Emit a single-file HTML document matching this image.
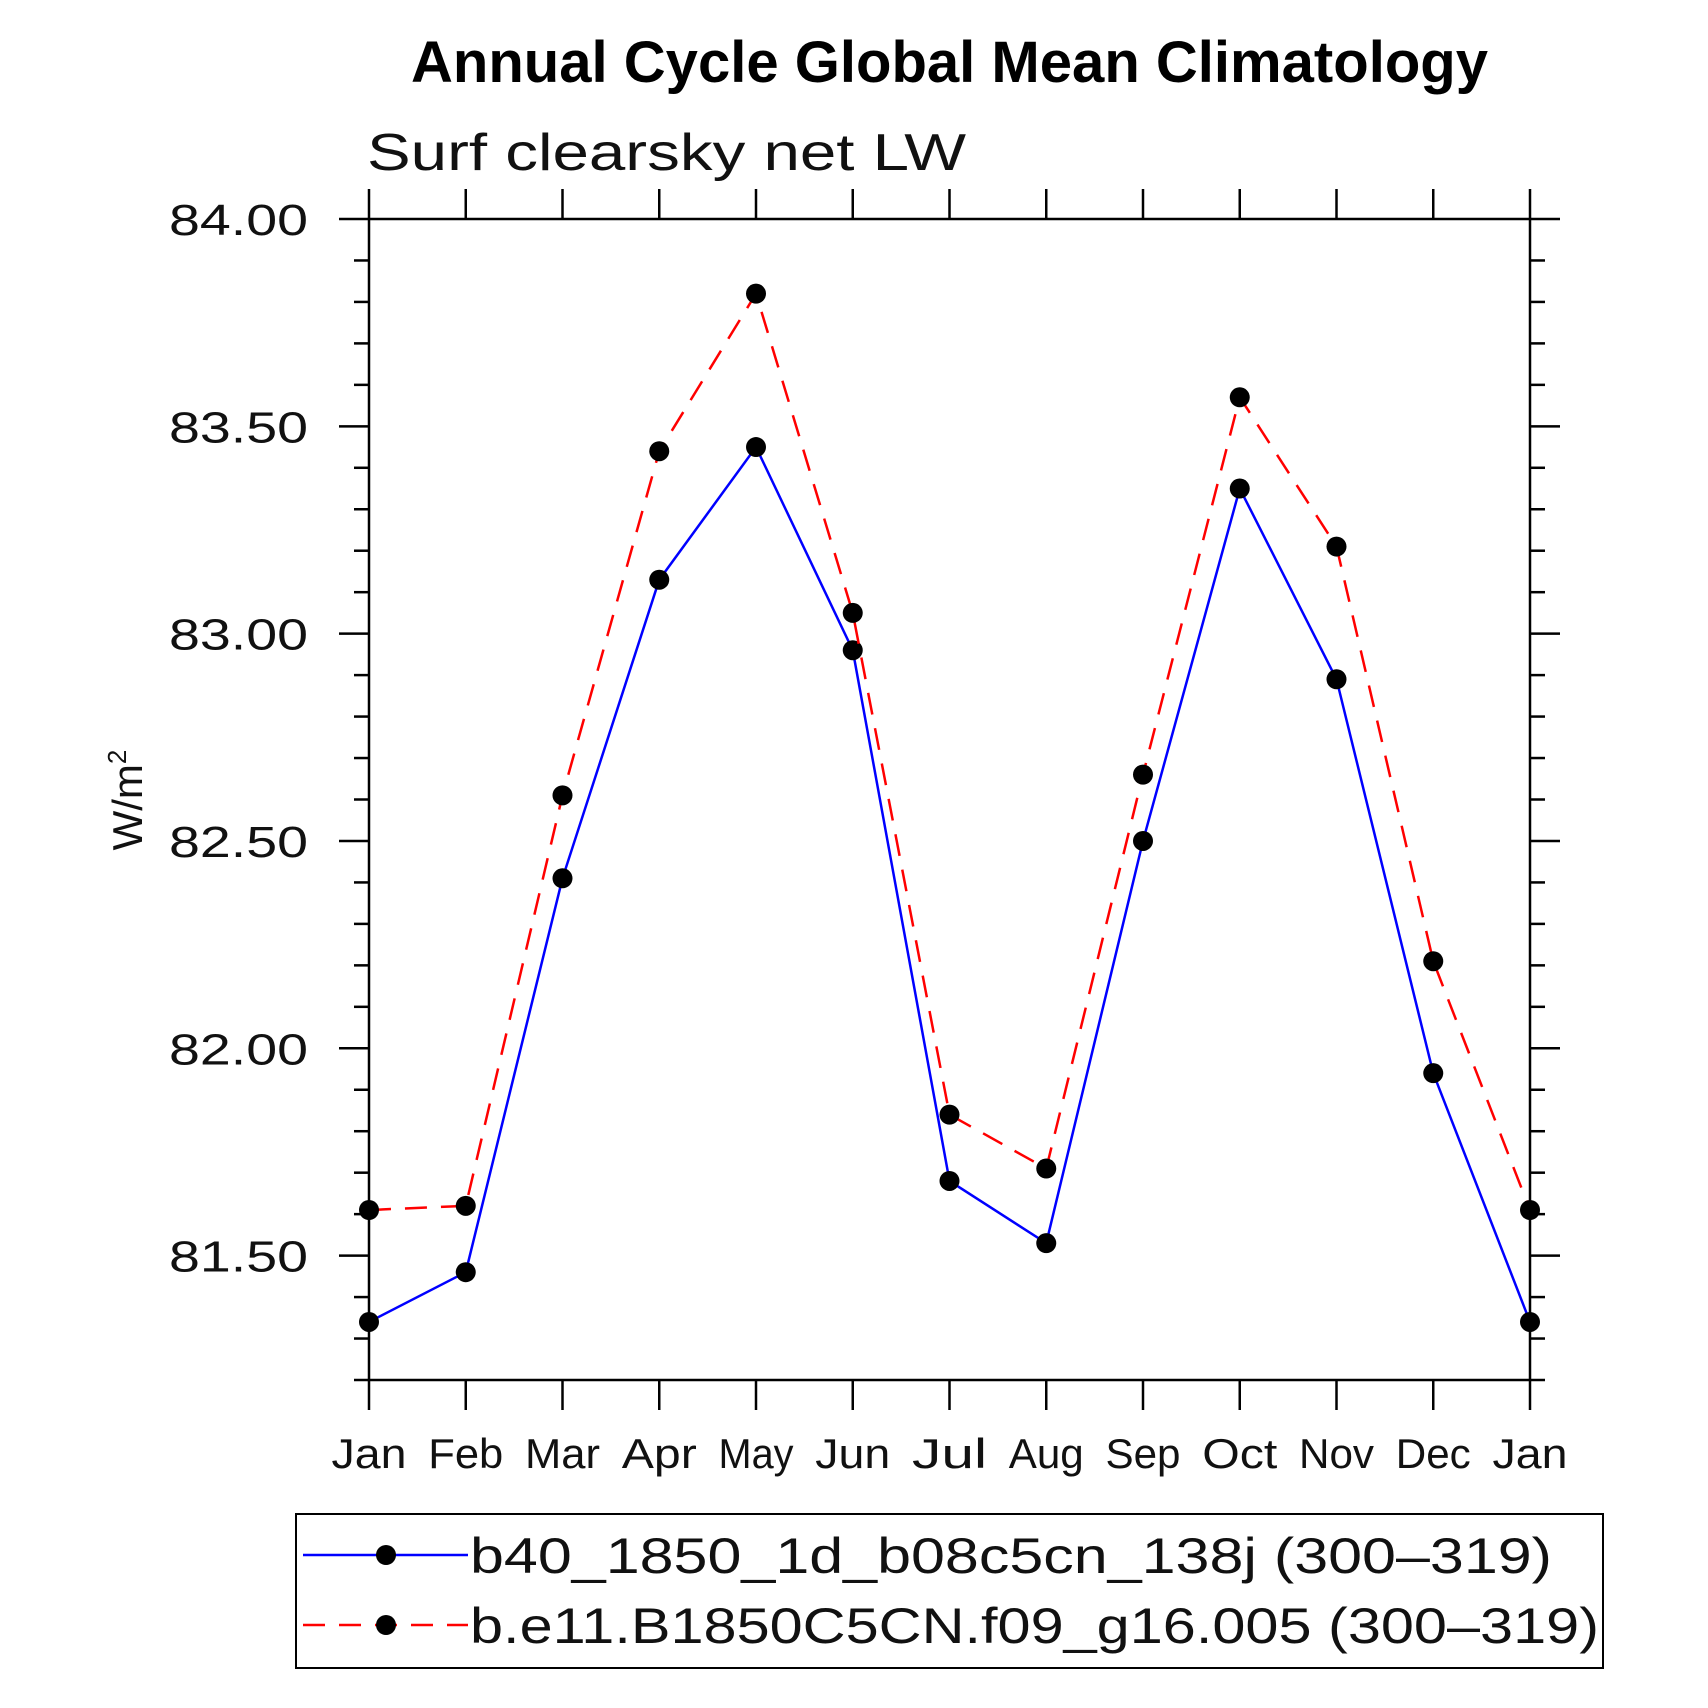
<!DOCTYPE html>
<html><head><meta charset="utf-8"><style>
html,body{margin:0;padding:0;background:#fff;}
svg{display:block;font-family:"Liberation Sans",sans-serif;}
</style></head><body>
<svg id="chart" width="1708" height="1708" viewBox="0 0 1708 1708">
<text x="411" y="82" textLength="1077" lengthAdjust="spacingAndGlyphs" font-size="58" font-weight="bold">Annual Cycle Global Mean Climatology</text>
<text x="367" y="170" textLength="599" lengthAdjust="spacingAndGlyphs" font-size="52" fill="#111">Surf clearsky net LW</text>
<text transform="translate(142,800) rotate(-90)" text-anchor="middle" font-size="42" fill="#111">W/m<tspan font-size="26" dy="-16">2</tspan></text>
<g id="axes"></g>
<g id="series"></g>
<rect x="296" y="1514" width="1307" height="154" fill="none" stroke="#000" stroke-width="2"/>
<g>
<line x1="303" y1="1555" x2="468" y2="1555" stroke="#0000ff" stroke-width="2.5"/>
<circle cx="386" cy="1555" r="10" fill="#000"/>
<text x="470" y="1573" textLength="1082" lengthAdjust="spacingAndGlyphs" font-size="50" fill="#111">b40_1850_1d_b08c5cn_138j (300–319)</text>
</g>
<g>
<line x1="303" y1="1625" x2="468" y2="1625" stroke="#ff0000" stroke-width="2.5" stroke-dasharray="22,14"/>
<circle cx="386" cy="1625" r="10" fill="#000"/>
<text x="470" y="1643" textLength="1129" lengthAdjust="spacingAndGlyphs" font-size="50" fill="#111">b.e11.B1850C5CN.f09_g16.005 (300–319)</text>
</g>
</svg>
<script>
const months = ["Jan","Feb","Mar","Apr","May","Jun","Jul","Aug","Sep","Oct","Nov","Dec","Jan"];
const blueValues = [81.34,81.46,82.41,83.13,83.45,82.96,81.68,81.53,82.50,83.35,82.89,81.94,81.34];
const redValues = [81.61,81.62,82.61,83.44,83.82,83.05,81.84,81.71,82.66,83.57,83.21,82.21,81.61];
const yTickLabels = ["81.50","82.00","82.50","83.00","83.50","84.00"];
const yMin = 81.2, yMax = 84.0;
const L=369,R=1530,T=219,B=1380;
const NS="http://www.w3.org/2000/svg";
function xs(i){return L+(R-L)*i/(months.length-1);}
function ys(v){return B-(v-yMin)/(yMax-yMin)*(B-T);}
function mk(tag,attrs,parent){const e=document.createElementNS(NS,tag);for(const k in attrs)e.setAttribute(k,attrs[k]);parent.appendChild(e);return e;}
const ax=document.getElementById('axes');
const frame=mk('rect',{x:L,y:T,width:R-L,height:B-T,fill:'none',stroke:'#000','stroke-width':2.5},ax);


for(let k=0;k<=28;k++){
  const v=yMin+k*0.1; const y=ys(v);
  const major=Math.abs((v*2)-Math.round(v*2))<1e-6;
  const len=major?30:15;
  mk('line',{x1:L-len,y1:y,x2:L,y2:y,stroke:'#000','stroke-width':2.5},ax);
  mk('line',{x1:R,y1:y,x2:R+len,y2:y,stroke:'#000','stroke-width':2.5},ax);
}
yTickLabels.forEach(s=>{
  const t=mk('text',{x:169,y:ys(parseFloat(s))+16,textLength:139,lengthAdjust:'spacingAndGlyphs','font-size':44,fill:'#111'},ax);
  t.textContent=s;
  
  
});
months.forEach((m,i)=>{
  const x=xs(i);
  mk('line',{x1:x,y1:B,x2:x,y2:B+30,stroke:'#000','stroke-width':2.5},ax);
  mk('line',{x1:x,y1:T-30,x2:x,y2:T,stroke:'#000','stroke-width':2.5},ax);
  const w=m.length*25;
  const t=mk('text',{x:x-w/2,y:1468,textLength:w,lengthAdjust:'spacingAndGlyphs','font-size':42,fill:'#111'},ax);
  t.textContent=m;
  
  
});
const sg=document.getElementById('series');
function drawSeries(vals,color,dash,name){
  const pts=vals.map((v,i)=>xs(i)+','+ys(v)).join(' ');
  const pl=mk('polyline',{points:pts,fill:'none',stroke:color,'stroke-width':2.5},sg);
  if(dash)pl.setAttribute('stroke-dasharray',dash);
  
  
  vals.forEach((v,i)=>{
    const c=mk('circle',{cx:xs(i),cy:ys(v),r:10,fill:'#000'},sg);
    
    
  });
}
drawSeries(blueValues,'#0000ff',null,'blue-series');
drawSeries(redValues,'#ff0000','22,14','red-series');
</script>
</body></html>
